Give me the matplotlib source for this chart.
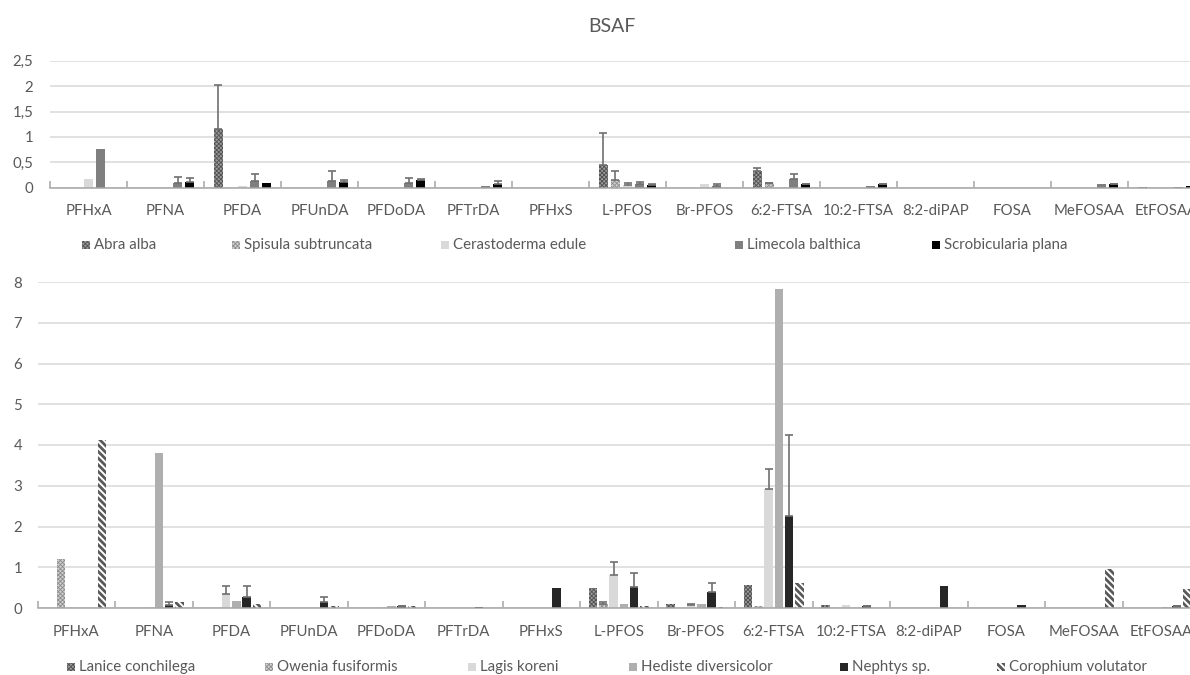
import numpy as np
import matplotlib
matplotlib.use("Agg")
import matplotlib.pyplot as plt
from matplotlib.patches import Rectangle

plt.rcParams['font.family'] = ['Lato', 'DejaVu Sans']

compounds = ["PFHxA", "PFNA", "PFDA", "PFUnDA", "PFDoDA", "PFTrDA", "PFHxS", "L-PFOS",
             "Br-PFOS", "6:2-FTSA", "10:2-FTSA", "8:2-diPAP", "FOSA", "MeFOSAA", "EtFOSAA"]

# ---- top panel (bivalves) ----
top_species = ["Abra alba", "Spisula subtruncata", "Cerastoderma edule",
               "Limecola balthica", "Scrobicularia plana"]
abra_alba = [0, 0, 1.15, 0, 0, 0, 0, 0.445, 0, 0.33, 0, 0, 0, 0, 0.02]
abra_alba_err = [0, 0, 0.88, 0, 0, 0, 0, 0.63, 0, 0.06, 0, 0, 0, 0, 0]
spisula = [0, 0, 0, 0, 0, 0, 0, 0.15, 0, 0.085, 0, 0, 0, 0, 0]
spisula_err = [0, 0, 0, 0, 0, 0, 0, 0.18, 0, 0.01, 0, 0, 0, 0, 0]
cerastoderma = [0.165, 0, 0.03, 0, 0, 0, 0, 0.05, 0.07, 0.01, 0, 0, 0, 0, 0]
cerastoderma_err = [0, 0, 0, 0, 0, 0, 0, 0.05, 0, 0, 0, 0, 0, 0, 0]
limecola = [0.755, 0.087, 0.13, 0.14, 0.10, 0.035, 0, 0.07, 0.04, 0.18, 0.03, 0, 0, 0.07, 0.02]
limecola_err = [0, 0.13, 0.14, 0.195, 0.10, 0, 0, 0.05, 0.03, 0.09, 0, 0, 0, 0, 0]
scrobicularia = [0, 0.11, 0.085, 0.12, 0.145, 0.08, 0, 0.05, 0, 0.065, 0.065, 0, 0, 0.07, 0.04]
scrobicularia_err = [0, 0.09, 0, 0.04, 0.035, 0.05, 0, 0.02, 0, 0.01, 0.01, 0, 0, 0.01, 0]

# ---- bottom panel (other species) ----
bot_species = ["Lanice conchilega", "Owenia fusiformis", "Lagis koreni",
               "Hediste diversicolor", "Nephtys sp.", "Corophium volutator"]
lanice = [0, 0, 0, 0, 0, 0, 0, 0.48, 0.09, 0.57, 0.07, 0, 0, 0, 0]
lanice_err = [0] * 15
owenia = [1.2, 0, 0, 0, 0, 0, 0, 0.09, 0, 0.06, 0, 0, 0, 0.01, 0]
owenia_err = [0, 0, 0, 0, 0, 0, 0, 0.06, 0, 0, 0, 0, 0, 0, 0]
lagis = [0, 0.02, 0.35, 0, 0.02, 0, 0, 0.8, 0.08, 2.91, 0.07, 0, 0, 0, 0.01]
lagis_err = [0, 0, 0.19, 0, 0, 0, 0, 0.33, 0.02, 0.49, 0, 0, 0, 0, 0]
hediste = [0, 3.8, 0.17, 0, 0.04, 0, 0, 0.11, 0.09, 7.84, 0, 0, 0, 0, 0.03]
hediste_err = [0] * 15
nephtys = [0, 0.08, 0.28, 0.14, 0.04, 0.02, 0.48, 0.52, 0.4, 2.26, 0.04, 0.53, 0.08, 0, 0.04]
nephtys_err = [0, 0.06, 0.26, 0.14, 0.02, 0, 0, 0.34, 0.22, 1.99, 0.02, 0, 0, 0, 0.02]
corophium = [4.12, 0.15, 0.1, 0.06, 0.05, 0, 0, 0.06, 0.03, 0.61, 0, 0, 0, 0.95, 0.47]
corophium_err = [0] * 15

top_vals = [abra_alba, spisula, cerastoderma, limecola, scrobicularia]
top_errs = [abra_alba_err, spisula_err, cerastoderma_err, limecola_err, scrobicularia_err]
bot_vals = [lanice, owenia, lagis, hediste, nephtys, corophium]
bot_errs = [lanice_err, owenia_err, lagis_err, hediste_err, nephtys_err, corophium_err]

# styles: (facecolor, hatch, hatch color, hatch linewidth)
top_styles = [("#9a9a9a", "xxxxxxxx", "#505050", 0.6),
              ("#d0d0d0", "xxxxxxxx", "#8a8a8a", 0.6),
              ("#d9d9d9", None, None, 0),
              ("#7f7f7f", None, None, 0),
              ("#000000", None, None, 0)]
bot_styles = [("#9a9a9a", "xxxxxxxx", "#505050", 0.6),
              ("#d0d0d0", "xxxxxxxx", "#8a8a8a", 0.6),
              ("#d9d9d9", None, None, 0),
              ("#afafaf", None, None, 0),
              ("#262626", None, None, 0),
              ("#ffffff", "\\\\\\\\\\", "#595959", 2.0)]

TXT = "#595959"
GRID = "#d9d9d9"
AX = "#a6a6a6"
W, H = 1190, 675
fig = plt.figure(figsize=(11.9, 6.75), dpi=100)

def style_patch(p, st):
    fc, hatch, hc, hlw = st
    if hatch:
        try:
            p.set_hatch_linewidth(hlw)
        except Exception:
            pass

def draw_panel(rect, vals, errs, styles, ylim, yticks, yticklabels, spacing, width, ypad):
    ax = fig.add_axes(rect)
    x = np.arange(len(compounds))
    n = len(vals)
    for i, (v, e, st) in enumerate(zip(vals, errs, styles)):
        xpos = x + (i - (n - 1) / 2) * spacing
        fc, hatch, hc, hlw = st
        bars = ax.bar(xpos, v, width=width, color=fc, edgecolor=hc if hc else fc,
                      linewidth=0, hatch=hatch, zorder=3)
        for b in bars:
            style_patch(b, st)
        e = np.asarray(e, dtype=float)
        v = np.asarray(v, dtype=float)
        m = e > 0
        if m.any():
            ax.errorbar(xpos[m], v[m], yerr=[np.zeros(m.sum()), e[m]], fmt="none",
                        ecolor="#6f6f6f", elinewidth=1.2, capsize=3.2, capthick=1.2, zorder=4)
    ax.set_xlim(-0.5, len(compounds) - 0.5)
    ax.set_ylim(*ylim)
    ax.set_yticks(yticks)
    ax.set_yticklabels(yticklabels)
    ax.yaxis.grid(True, color=GRID, linewidth=1.1, zorder=0)
    ax.set_axisbelow(True)
    for s in ["top", "right", "left"]:
        ax.spines[s].set_visible(False)
    ax.spines["bottom"].set_color(AX)
    ax.spines["bottom"].set_linewidth(1.1)
    ax.spines["bottom"].set_zorder(5)
    ax.set_xticks(x)
    ax.set_xticklabels(compounds)
    ax.set_xticks(np.arange(-0.5, len(compounds)), minor=True)
    ax.tick_params(axis="x", which="major", length=0, pad=12, labelsize=10.8, labelcolor=TXT)
    ax.tick_params(axis="x", which="minor", length=5, direction="in", color=AX, width=1.1)
    ax.tick_params(axis="y", length=0, pad=ypad, labelsize=10.8, labelcolor=TXT)
    return ax

# top axes: y 0 at 187.7 px, 2.5 at 60.7 px; x from 50 px, 77 px per category
draw_panel([50 / W, 1 - 187.7 / H, 15 * 77 / W, 127 / H], top_vals, top_errs, top_styles,
           (0, 2.5), [0, 0.5, 1, 1.5, 2, 2.5], ["0", "0,5", "1", "1,5", "2", "2,5"],
           0.156, 0.125, 12)
# bottom axes: y 0 at 608 px, 8 at 282 px; x from 37.5 px, 77.5 px per category
draw_panel([37.5 / W, 1 - 608 / H, 15 * 77.5 / W, 326 / H], bot_vals, bot_errs, bot_styles,
           (0, 8), list(range(9)), [str(i) for i in range(9)],
           0.133, 0.11, 11)

fig.text(612 / W, 1 - 26 / H, "BSAF", ha="center", va="center", fontsize=14, color=TXT)

def legend_row(items, styles, y_px):
    for (mx, label), st in zip(items, styles):
        fc, hatch, hc, hlw = st
        r = Rectangle((mx / W, 1 - (y_px + 4) / H), 8 / W, 8 / H, transform=fig.transFigure,
                      facecolor=fc, edgecolor=hc if hc else fc, linewidth=0, hatch=hatch)
        style_patch(r, st)
        fig.add_artist(r)
        fig.text((mx + 12) / W, 1 - y_px / H, label, ha="left", va="center",
                 fontsize=10.8, color=TXT)

legend_row(list(zip([82, 232, 441, 735, 932], top_species)), top_styles, 245)
legend_row(list(zip([67, 265, 468, 629, 840, 997], bot_species)), bot_styles, 667)

fig.savefig("out.png", dpi=100, facecolor="white")
